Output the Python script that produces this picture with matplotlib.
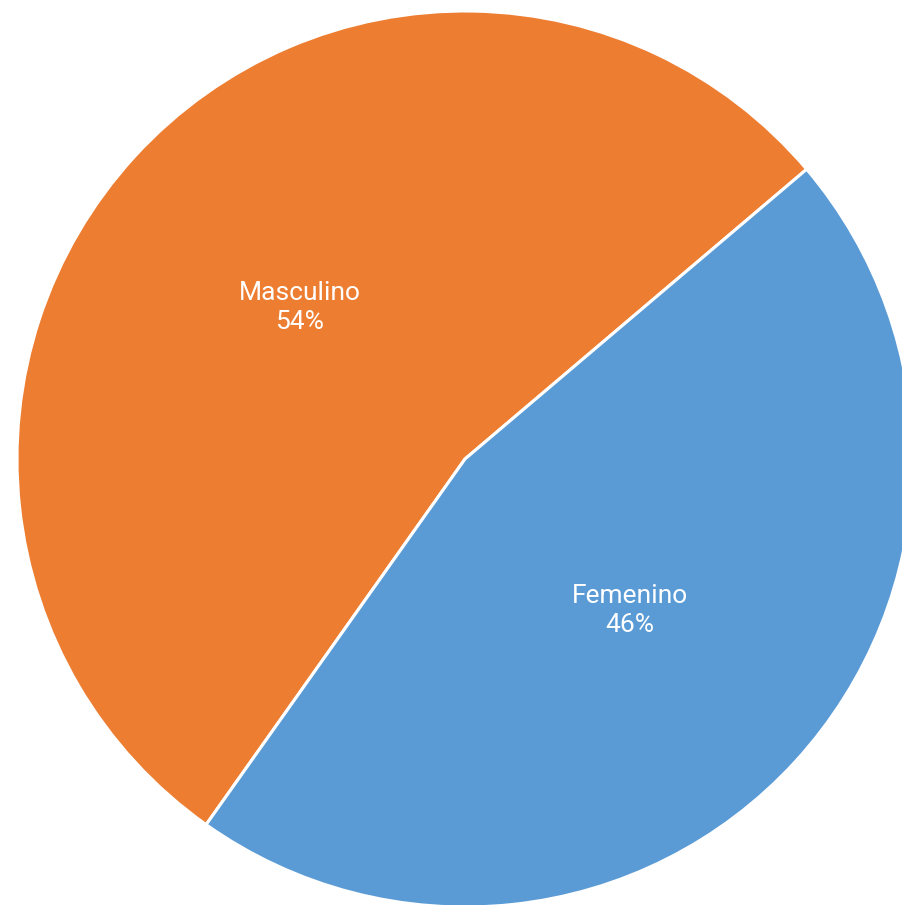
import matplotlib
matplotlib.use("Agg")
import matplotlib.pyplot as plt

categories = ["Masculino", "Femenino"]
shares = [54, 46]
colors = ["#ED7D31", "#5B9BD5"]

W, H = 903, 905
cx, cy, r = 465, 459, 448

fig = plt.figure(figsize=(W / 100, H / 100), dpi=100)
ax = fig.add_axes([0, 0, 1, 1])

names = iter(categories)


def label_fmt(pct):
    return f"{next(names)}\n{pct:.0f}%"


wedges, texts, autotexts = ax.pie(
    shares,
    colors=colors,
    startangle=40.3,
    counterclock=True,
    radius=1,
    autopct=label_fmt,
    pctdistance=0.5,
    wedgeprops=dict(edgecolor="white", linewidth=2.2),
    textprops=dict(color="white", fontsize=19, family="Roboto"),
)
for t in autotexts:
    t.set_linespacing(1.28)

# pixel-true limits so the pie sits where it should and runs off the edges
ax.set_aspect("auto")
ax.set_xlim(-cx / r, (W - cx) / r)
ax.set_ylim(-(H - cy) / r, cy / r)
ax.axis("off")

fig.savefig("out.png", dpi=100, facecolor="white")
